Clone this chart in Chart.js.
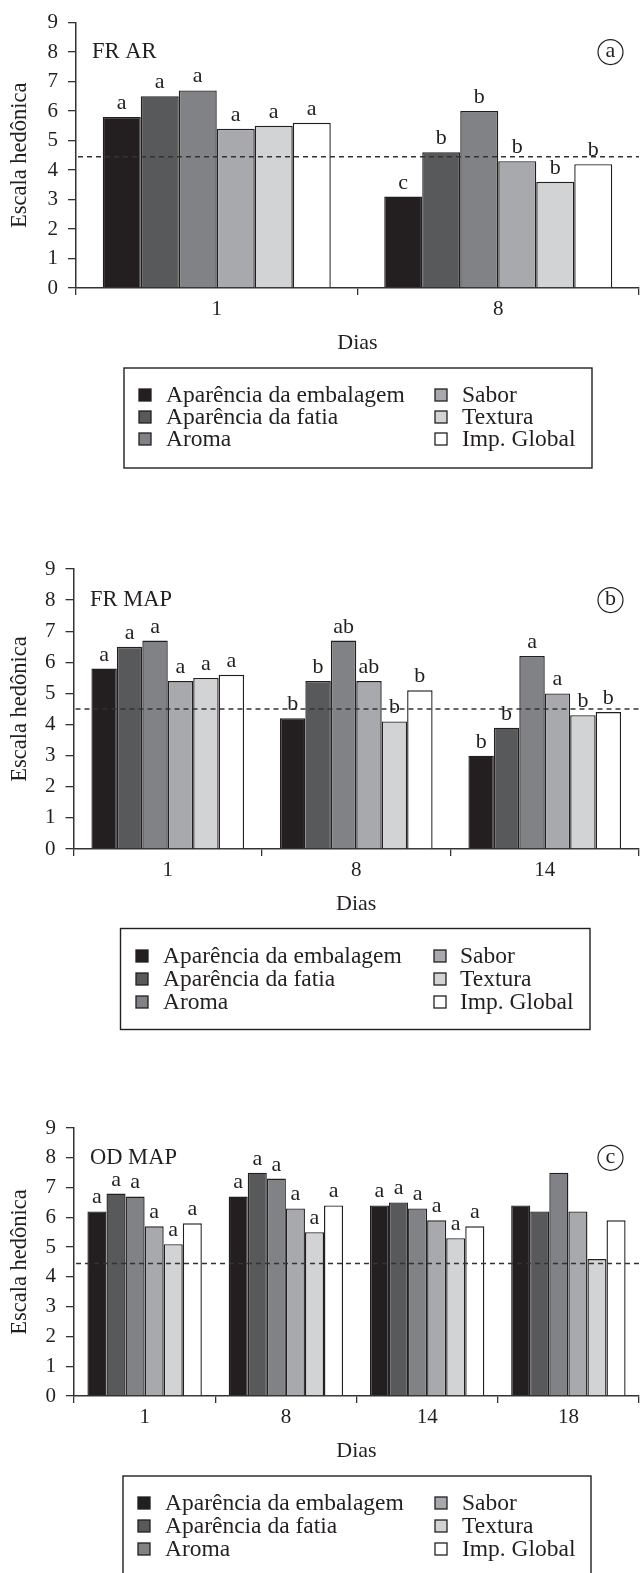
<!DOCTYPE html>
<html><head><meta charset="utf-8">
<script src="https://cdn.jsdelivr.net/npm/chart.js@4.4.1/dist/chart.umd.min.js"></script>
<style>
html,body{margin:0;padding:0;background:#fff;}
#wrap{position:relative;width:640px;height:1573px;overflow:hidden;background:#fff;}
canvas{position:absolute;left:0;}
</style></head><body><div id="wrap">
<canvas id="ca" width="640" height="500" style="top:0px;width:640px;height:500px"></canvas>
<canvas id="cb" width="640" height="530" style="top:520px;width:640px;height:530px"></canvas>
<canvas id="cc" width="640" height="493" style="top:1080px;width:640px;height:493px"></canvas>
</div>
<script>
// ---- data ----
const SERIES_NAMES = ['Aparência da embalagem', 'Aparência da fatia', 'Aroma', 'Sabor', 'Textura', 'Imp. Global'];
const SERIES_COLORS = ['#231f20', '#58595b', '#808285', '#a7a9ac', '#d1d3d4', '#ffffff'];
const Y_TITLE = 'Escala hedônica';
const X_TITLE = 'Dias';

// (a) FR AR
const FR_AR_DAYS = ['1', '8'];
const FR_AR_EMBALAGEM = [5.8, 3.1];
const FR_AR_FATIA = [6.5, 4.6];
const FR_AR_AROMA = [6.7, 6.0];
const FR_AR_SABOR = [5.4, 4.3];
const FR_AR_TEXTURA = [5.5, 3.6];
const FR_AR_GLOBAL = [5.6, 4.2];
const FR_AR_LETTERS = [['a','c'], ['a','b'], ['a','b'], ['a','b'], ['a','b'], ['a','b']];
const FR_AR_CUTOFF = 4.45;

// (b) FR MAP
const FR_MAP_DAYS = ['1', '8', '14'];
const FR_MAP_EMBALAGEM = [5.8, 4.2, 3.0];
const FR_MAP_FATIA = [6.5, 5.4, 3.9];
const FR_MAP_AROMA = [6.7, 6.7, 6.2];
const FR_MAP_SABOR = [5.4, 5.4, 5.0];
const FR_MAP_TEXTURA = [5.5, 4.1, 4.3];
const FR_MAP_GLOBAL = [5.6, 5.1, 4.4];
const FR_MAP_LETTERS = [['a','b','b'], ['a','b','b'], ['a','ab','a'], ['a','ab','a'], ['a','b','b'], ['a','b','b']];
const FR_MAP_CUTOFF = 4.5;

// (c) OD MAP
const OD_MAP_DAYS = ['1', '8', '14', '18'];
const OD_MAP_EMBALAGEM = [6.2, 6.7, 6.4, 6.4];
const OD_MAP_FATIA = [6.8, 7.5, 6.5, 6.2];
const OD_MAP_AROMA = [6.7, 7.3, 6.3, 7.5];
const OD_MAP_SABOR = [5.7, 6.3, 5.9, 6.2];
const OD_MAP_TEXTURA = [5.1, 5.5, 5.3, 4.6];
const OD_MAP_GLOBAL = [5.8, 6.4, 5.7, 5.9];
const OD_MAP_LETTERS = [['a','a','a',''], ['a','a','a',''], ['a','a','a',''], ['a','a','a',''], ['a','a','a',''], ['a','a','a','']];
const OD_MAP_CUTOFF = 4.45;

// ---- styling ----
const FONT = '"Liberation Serif", "Times New Roman", serif';
const INK = '#231f20';
const AXIS = '#333333';

function makePanel(p) {
  const canvas = document.getElementById(p.id);
  const H = canvas.height;
  const xAxisH = 68;
  const padTop = p.chartTop - p.canvasTop;
  const padBottom = H - (p.chartBottom - p.canvasTop) - xAxisH;

  const datasets = p.values.map((vals, i) => ({
    label: SERIES_NAMES[i],
    data: vals,
    backgroundColor: SERIES_COLORS[i],
    borderColor: INK,
    borderWidth: 1.4,
    borderSkipped: 'bottom',
    categoryPercentage: 0.81,
    barPercentage: 1.0
  }));

  const overlay = {
    id: 'overlay_' + p.id,
    afterDatasetsDraw(chart) {
      const ctx = chart.ctx;
      const ca = chart.chartArea;
      const ys = chart.scales.y;
      // cutoff dashed line
      const yc = ys.getPixelForValue(p.cutoff);
      ctx.save();
      ctx.strokeStyle = AXIS;
      ctx.lineWidth = 1.4;
      ctx.setLineDash([5, 4]);
      ctx.beginPath();
      ctx.moveTo(ca.left + 2, yc);
      ctx.lineTo(ca.right, yc);
      ctx.stroke();
      ctx.restore();
      // significance letters
      ctx.save();
      ctx.fillStyle = INK;
      ctx.font = '22px ' + FONT;
      ctx.textAlign = 'center';
      ctx.textBaseline = 'alphabetic';
      chart.data.datasets.forEach((ds, i) => {
        const meta = chart.getDatasetMeta(i);
        meta.data.forEach((bar, j) => {
          const t = p.letters[i][j];
          if (t) ctx.fillText(t, bar.x, bar.y - 8);
        });
      });
      ctx.restore();
    },
    afterDraw(chart) {
      const ctx = chart.ctx;
      const ca = chart.chartArea;
      const ys = chart.scales.y;
      const y8 = ys.getPixelForValue(8);
      ctx.save();
      ctx.fillStyle = INK;
      ctx.font = '22.5px ' + FONT;
      ctx.textAlign = 'left';
      ctx.textBaseline = 'middle';
      ctx.fillText(p.title, p.titleX, y8);
      // circled tag
      const cx = ca.right - 28.5;
      ctx.strokeStyle = INK;
      ctx.lineWidth = 1.2;
      ctx.beginPath();
      ctx.arc(cx, y8, 12.5, 0, Math.PI * 2);
      ctx.stroke();
      ctx.font = '22px ' + FONT;
      ctx.textAlign = 'center';
      ctx.fillText(p.tag, cx, y8 - 1);
      ctx.restore();

      // legend box
      const L = p.legend;
      const off = p.canvasTop;
      ctx.save();
      ctx.strokeStyle = INK;
      ctx.lineWidth = 1.4;
      ctx.strokeRect(L.left, L.top - off, L.right - L.left, L.bottom - L.top);
      ctx.font = '23.5px ' + FONT;
      ctx.textAlign = 'left';
      ctx.textBaseline = 'middle';
      SERIES_NAMES.forEach((name, i) => {
        const col = Math.floor(i / 3);
        const row = i % 3;
        const cy = L.rows[row] - off;
        const mx = col === 0 ? L.m1 : L.m2;
        const tx = col === 0 ? L.t1 : L.t2;
        ctx.fillStyle = SERIES_COLORS[i];
        ctx.fillRect(mx, cy - 6, 12, 12);
        ctx.strokeStyle = INK;
        ctx.lineWidth = 1.3;
        ctx.strokeRect(mx, cy - 6, 12, 12);
        ctx.fillStyle = INK;
        ctx.fillText(name, tx, cy + 1);
      });
      ctx.restore();
    }
  };

  return new Chart(canvas, {
    type: 'bar',
    data: { labels: p.days, datasets },
    options: {
      responsive: false,
      animation: false,
      devicePixelRatio: 1,
      layout: { padding: { top: padTop, right: 1, bottom: padBottom, left: 0 } },
      plugins: { legend: { display: false }, tooltip: { enabled: false }, title: { display: false } },
      scales: {
        x: {
          type: 'category',
          grid: { offset: true, drawOnChartArea: false, drawTicks: true, tickLength: 7, color: AXIS, lineWidth: 1.3 },
          border: { display: true, color: AXIS, width: 1.5 },
          ticks: { color: INK, font: { family: FONT, size: 21 }, padding: 2, maxRotation: 0, autoSkip: false },
          title: { display: true, text: X_TITLE, color: INK, font: { family: FONT, size: 22 }, padding: 0 },
          afterFit(s) { s.height = xAxisH; }
        },
        y: {
          min: 0, max: 9,
          grid: { drawOnChartArea: false, drawTicks: true, tickLength: 8, color: AXIS, lineWidth: 1.3 },
          border: { display: true, color: AXIS, width: 1.5 },
          ticks: { stepSize: 1, color: INK, font: { family: FONT, size: 21 }, padding: 10 },
          title: { display: true, text: Y_TITLE, color: INK, font: { family: FONT, size: 22.5 }, padding: { top: 7, bottom: 0 } },
          afterFit(s) { s.width = p.chartLeft; }
        }
      }
    },
    plugins: [overlay]
  });
}

makePanel({
  id: 'ca', canvasTop: 0, chartTop: 20, chartBottom: 288, chartLeft: 76,
  days: FR_AR_DAYS,
  values: [FR_AR_EMBALAGEM, FR_AR_FATIA, FR_AR_AROMA, FR_AR_SABOR, FR_AR_TEXTURA, FR_AR_GLOBAL],
  letters: FR_AR_LETTERS, cutoff: FR_AR_CUTOFF, title: 'FR AR', tag: 'a', titleX: 92,
  legend: { left: 124, top: 368, right: 592, bottom: 468, m1: 139, t1: 166, m2: 435, t2: 462, rows: [395, 417, 439] }
});
makePanel({
  id: 'cb', canvasTop: 520, chartTop: 569, chartBottom: 849, chartLeft: 73.5,
  days: FR_MAP_DAYS,
  values: [FR_MAP_EMBALAGEM, FR_MAP_FATIA, FR_MAP_AROMA, FR_MAP_SABOR, FR_MAP_TEXTURA, FR_MAP_GLOBAL],
  letters: FR_MAP_LETTERS, cutoff: FR_MAP_CUTOFF, title: 'FR MAP', tag: 'b', titleX: 90,
  legend: { left: 120.5, top: 928.5, right: 590, bottom: 1029.5, m1: 136, t1: 163, m2: 434, t2: 460, rows: [956, 979, 1002] }
});
makePanel({
  id: 'cc', canvasTop: 1080, chartTop: 1128, chartBottom: 1396, chartLeft: 74,
  days: OD_MAP_DAYS,
  values: [OD_MAP_EMBALAGEM, OD_MAP_FATIA, OD_MAP_AROMA, OD_MAP_SABOR, OD_MAP_TEXTURA, OD_MAP_GLOBAL],
  letters: OD_MAP_LETTERS, cutoff: OD_MAP_CUTOFF, title: 'OD MAP', tag: 'c', titleX: 90,
  legend: { left: 123, top: 1476, right: 591, bottom: 1600, m1: 138, t1: 165, m2: 435, t2: 462, rows: [1503, 1526, 1549] }
});
</script>
</body></html>
